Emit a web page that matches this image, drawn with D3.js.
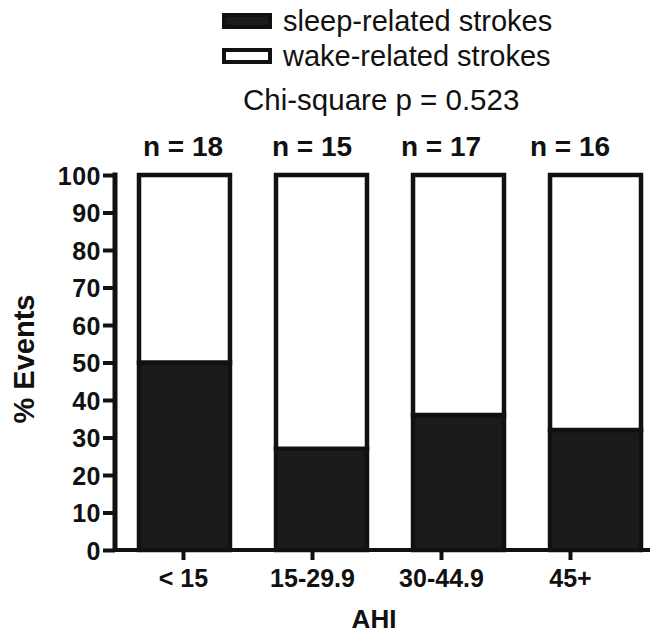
<!DOCTYPE html>
<html>
<head>
<meta charset="utf-8">
<script src="https://cdn.jsdelivr.net/npm/d3@7"></script>
<style>
  html, body { margin: 0; padding: 0; background: #fff; }
  svg { display: block; font-family: "Liberation Sans", Arial, Helvetica, sans-serif; }
</style>
</head>
<body>
<svg id="chart" width="657" height="636"></svg>
<script>
// AHI groups and the share of strokes that happened during sleep
const categories = ["< 15", "15-29.9", "30-44.9", "45+"];
const groupSizes = [18, 15, 17, 16];
const sleepPct = [50, 27, 36, 32];
const wakePct = [50, 73, 64, 68];
const seriesNames = ["sleep-related strokes", "wake-related strokes"];
const yTicks = [0, 10, 20, 30, 40, 50, 60, 70, 80, 90, 100];
const pValueText = "Chi-square p = 0.523";

const svg = d3.select("#chart");
const ink = "#111";
const darkFill = "#1b1b1b";

const y = d3.scaleLinear().domain([0, 100]).range([550, 175]);

// bar placement
const xBar = d3.scaleBand().domain(categories).range([139, 641]).paddingInner(0.336).paddingOuter(0);
// tick / label placement along the category axis
const xTick = d3.scalePoint().domain(categories).range([183, 570]);

const rows = categories.map((c, i) => ({ cat: c, sleep: sleepPct[i], wake: wakePct[i] }));
const stacked = d3.stack().keys(["sleep", "wake"])(rows);
const fills = { sleep: darkFill, wake: "#fff" };

// stacked bars
svg.append("g").selectAll("g").data(stacked).join("g")
  .attr("fill", d => fills[d.key])
  .selectAll("rect").data(d => d).join("rect")
  .attr("x", d => xBar(d.data.cat))
  .attr("width", xBar.bandwidth())
  .attr("y", d => y(d[1]))
  .attr("height", d => y(d[0]) - y(d[1]))
  .attr("stroke", ink)
  .attr("stroke-width", 4.5);

// y axis
const yAxis = svg.append("g").attr("transform", "translate(115,0)")
  .call(d3.axisLeft(y).tickValues(yTicks).tickSize(12).tickPadding(2).tickSizeOuter(0));
yAxis.select(".domain").attr("stroke", ink).attr("stroke-width", 5)
  .attr("d", `M0,${y(100) - 2.5}V${y(0) + 2}`);
yAxis.selectAll(".tick line").attr("stroke", ink).attr("stroke-width", 4);
yAxis.selectAll(".tick text")
  .attr("fill", ink)
  .attr("font-size", 25)
  .attr("font-weight", "bold")
  .attr("letter-spacing", 0.5)
  .attr("dy", "0.36em");

// x axis
const xAxis = svg.append("g").attr("transform", `translate(0,${y(0)})`)
  .call(d3.axisBottom(xTick).tickSize(10).tickPadding(9).tickSizeOuter(0));
xAxis.select(".domain").attr("stroke", ink).attr("stroke-width", 4)
  .attr("d", "M113,0H650");
xAxis.selectAll(".tick line").attr("stroke", ink).attr("stroke-width", 4);
xAxis.selectAll(".tick text")
  .attr("fill", ink)
  .attr("font-size", 25)
  .attr("font-weight", "bold")
  .attr("dy", "0.71em");

// axis titles
svg.append("text")
  .attr("transform", "translate(34,359) rotate(-90)")
  .attr("text-anchor", "middle")
  .attr("font-size", 29)
  .attr("font-weight", "bold")
  .attr("fill", ink)
  .text("% Events");

svg.append("text")
  .attr("x", 374).attr("y", 628)
  .attr("text-anchor", "middle")
  .attr("font-size", 26)
  .attr("font-weight", "bold")
  .attr("fill", ink)
  .text("AHI");

// group sizes above each bar
svg.append("g").selectAll("text").data(categories).join("text")
  .attr("x", c => xTick(c))
  .attr("y", 156)
  .attr("text-anchor", "middle")
  .attr("font-size", 28)
  .attr("font-weight", "bold")
  .attr("fill", ink)
  .text((c, i) => `n = ${groupSizes[i]}`);

// legend
const legend = svg.append("g");
seriesNames.forEach((name, i) => {
  const top = 15 + i * 35;
  legend.append("rect")
    .attr("x", 224).attr("y", top)
    .attr("width", 46).attr("height", 12)
    .attr("fill", i === 0 ? darkFill : "#fff")
    .attr("stroke", ink).attr("stroke-width", 4);
  legend.append("text")
    .attr("x", 283).attr("y", top + 16)
    .attr("font-size", 29)
    .attr("fill", ink)
    .text(name);
});
legend.append("text")
  .attr("x", 243).attr("y", 110)
  .attr("font-size", 29.5)
  .attr("fill", ink)
  .text(pValueText);
</script>
</body>
</html>
